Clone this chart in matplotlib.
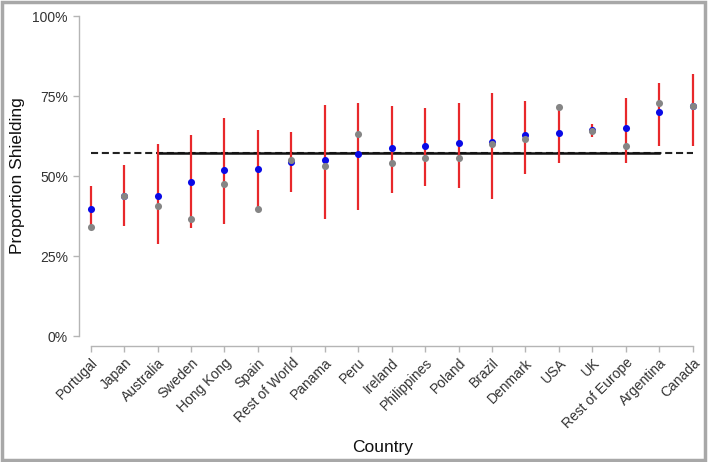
import matplotlib
matplotlib.use("Agg")
import matplotlib.pyplot as plt
from matplotlib.patches import Rectangle
from matplotlib.ticker import FuncFormatter

countries = ["Portugal", "Japan", "Australia", "Sweden", "Hong Kong", "Spain",
             "Rest of World", "Panama", "Peru", "Ireland", "Philippines", "Poland",
             "Brazil", "Denmark", "USA", "UK", "Rest of Europe", "Argentina", "Canada"]
blue_vals = [39.7, 43.6, 43.6, 48.1, 51.8, 52.1, 54.4, 54.9, 56.8, 58.9, 59.5, 60.2,
             60.5, 62.7, 63.5, 64.4, 64.9, 70.1, 72.0]
gray_vals = [34.2, 43.6, 40.6, 36.5, 47.5, 39.6, 55.0, 53.1, 63.0, 54.2, 55.7, 55.7,
             59.9, 61.7, 71.6, 64.0, 59.5, 72.7, 72.0]
lower = [33.1, 34.4, 28.8, 33.9, 35.0, 39.4, 45.0, 36.5, 39.4, 44.6, 46.9, 46.1,
         42.8, 50.5, 54.0, 62.1, 54.2, 59.4, 59.5]
upper = [46.9, 53.3, 59.9, 62.7, 68.2, 64.3, 63.9, 72.2, 72.9, 71.9, 71.1, 72.9,
         75.8, 73.4, 71.6, 66.3, 74.3, 79.2, 81.9]
overall = 57.3
solid_start, solid_end = "Australia", "Argentina"
yticks = [0, 25, 50, 75, 100]

plt.rcParams['font.family'] = ['Liberation Sans', 'DejaVu Sans']

W, H = 709, 462
fig = plt.figure(figsize=(W / 100, H / 100), dpi=100)
ax = fig.add_axes([79 / W, (H - 336) / H, (700 - 79) / W, 320 / H])

x = list(range(len(countries)))
ax.set_xlim(-0.35, 18.22)
ax.set_ylim(0, 100)

# reference lines
ax.plot([x[0], x[-1]], [overall, overall], color='#222222', lw=1.5,
        dashes=(3.4, 1.8), zorder=1)
i0, i1 = countries.index(solid_start), countries.index(solid_end)
ax.plot([x[i0], x[i1]], [overall, overall], color='#111111', lw=1.8, zorder=1.5)

# intervals
ax.vlines(x, lower, upper, color='#e8282b', lw=1.6, zorder=2)
ax.scatter(x, blue_vals, s=26, color='#0a0ae6', zorder=3, linewidths=0)
ax.scatter(x, gray_vals, s=26, color='#858585', zorder=4, linewidths=0)

# axes styling
for s in ['top', 'right']:
    ax.spines[s].set_visible(False)
spine_c = '#b5b5b5'
ax.spines['left'].set_color(spine_c)
ax.spines['bottom'].set_color(spine_c)
ax.spines['left'].set_linewidth(1.0)
ax.spines['bottom'].set_linewidth(1.0)
ax.spines['bottom'].set_position(('outward', 7.2))
ax.spines['bottom'].set_bounds(x[0], x[-1])
ax.spines['left'].set_bounds(0, 100)

ax.set_yticks(yticks)
ax.yaxis.set_major_formatter(FuncFormatter(lambda v, p: f"{int(v)}%"))
ax.set_xticks(x)
ax.set_xticklabels(countries, rotation=45, ha='right', va='top',
                   rotation_mode='anchor')
ax.tick_params(axis='both', colors=spine_c, length=4, width=1.0,
               labelsize=10, labelcolor='#333333')
ax.tick_params(axis='y', pad=4)
ax.tick_params(axis='x', pad=3)

ax.set_ylabel("Proportion Shielding", fontsize=12.5, color='#111111', labelpad=5)
ax.set_xlabel("Country", fontsize=12.5, color='#111111')
ax.xaxis.set_label_coords((383 - 79) / (700 - 79), -(440 - 336) / 320)

# figure frame
fig.patches.append(Rectangle((1.5 / W, 2.5 / H), 703 / W, 458 / H,
                             transform=fig.transFigure, fill=False,
                             edgecolor='#a8a8a8', lw=2.5))

fig.savefig("out.png", dpi=100)
